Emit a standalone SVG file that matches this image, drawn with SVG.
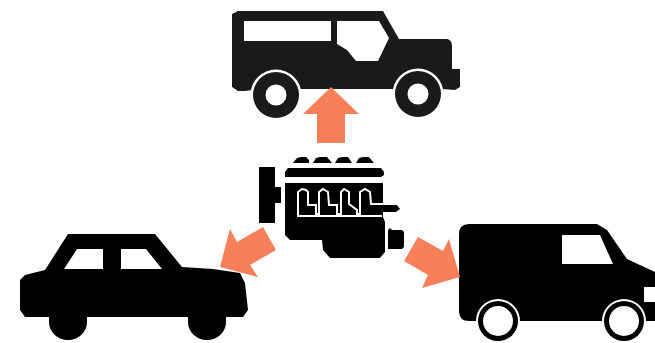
<svg xmlns="http://www.w3.org/2000/svg" width="655" height="343" viewBox="0 0 655 343">
<style>.a{fill:#f77f5a}.w{fill:#fff}.k{fill:#000}.j{fill:#1a1a1a}</style>
<rect width="655" height="343" fill="#fff"/>
<g id="jeep">
<path class="j" d="M232 14L238 11H383L399 39H447Q452 40 452 46V69H460V87L455 90L442 89H260L245 91H238L232 87Z"/>
<circle class="w" cx="276" cy="95" r="25.5"/><circle class="w" cx="418" cy="94" r="25.5"/>
<path class="j" d="M302 89H392V80H302Z"/>
<path class="w" d="M244 21H331V41H244ZM337 21H379L389 38L378 61H356L347 50L337 44Z"/>
<circle class="j" cx="276" cy="95" r="23"/><circle class="w" cx="276" cy="95" r="10.5"/>
<circle class="j" cx="418" cy="94" r="23"/><circle class="w" cx="418" cy="94" r="10.5"/>
</g>
<g id="engine">
<path class="k" d="M259 167H275V187H281V203H275V223H259Z"/>
<path class="k" d="M293 163L297 158L301 157H306L309 160V163ZM313 163L316 158L320 157H327L332 163ZM335 163L338 158L342 157H348L352 163ZM356 163L359 158L363 157H369L374 163Z"/>
<path class="k" d="M285 172L288 168H381L384 172L384 175L381 177H285Z"/>
<path class="k" d="M285 183H383V204H396L400 209L396 212H383V217L385 222V252L380 258H330L323 250L322 240H290L285 235Z"/>
<path fill="none" stroke="#fff" stroke-width="2" d="M382 216H298V192L302 189L306 190L308 192V205H316V214H319V192L323 189L328 192L329 205H337V214H341V192L344 189L349 192L349 204L357 210V214H360V192L365 189L370 192L371 204H397"/>
<path class="k" d="M388 230L390 228L392 230H402L404 232V247L402 249H388Z"/>
</g>
<g id="car">
<path class="k" d="M20 280L25 275L45 270L68 234H155L182 267L213 269L240 273L245 283L248 310L243 317H226V322A19 18 0 0 1 188 322V317H87V322A19 18 0 0 1 49 322V317H25L20 310Z"/>
<path class="w" d="M77 249H103V269H64ZM121 249H146L162 269H121Z"/>
</g>
<g id="van">
<path class="k" d="M459 234Q459 224 469 224H597L607 230L627 259L655 272V321H469Q459 321 459 311Z"/>
<circle class="w" cx="498" cy="321" r="22"/><circle class="w" cx="624" cy="321" r="22"/>
<circle class="k" cx="498" cy="321" r="20"/><circle class="w" cx="498" cy="321" r="15"/>
<circle class="k" cx="624" cy="321" r="20"/><circle class="w" cx="624" cy="321" r="15"/>
<path class="w" d="M562 235H600L613 264H562ZM644 287H655V302H644Z"/>
</g>
<g id="connectors">
<path class="a" d="M331 87L359 114H345V143H317V114H303Z"/>
<path class="a" d="M220 267L230 229L237 242L263 227L276 250L250 265L258 277Z"/>
<path class="a" d="M460 277L449 239L443 251L418 237L404 261L428 275L422 288Z"/>
</g>
</svg>
